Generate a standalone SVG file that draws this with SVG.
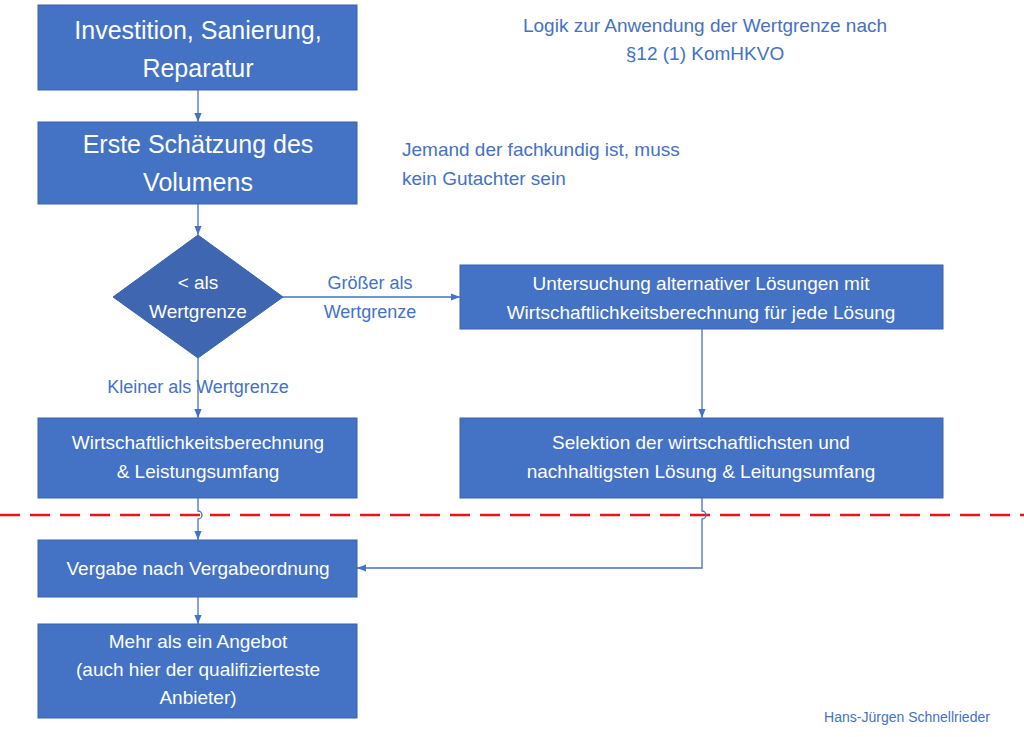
<svg xmlns="http://www.w3.org/2000/svg" width="1024" height="737" viewBox="0 0 1024 737">
<style>
.b{fill:#4472C4;stroke:#3A62AB;stroke-width:1}
.t{font-family:"Liberation Sans",Arial,sans-serif;fill:#fff;text-anchor:middle}
.l{font-family:"Liberation Sans",Arial,sans-serif;fill:#4472C4}
.c{stroke:#4472C4;stroke-width:1.3;fill:none;marker-end:url(#a)}
</style>
<defs><marker id="a" viewBox="0 0 10 10" refX="10" refY="5" markerWidth="7" markerHeight="7" orient="auto"><path d="M0,1 L10,5 L0,9 z" fill="#4472C4"/></marker></defs>
<rect width="1024" height="737" fill="#fff"/>
<g id="n1"><rect class="b" x="38" y="5" width="319" height="85"/><text class="t" x="198" y="39" font-size="25">Investition, Sanierung,</text><text class="t" x="198" y="77" font-size="25">Reparatur</text></g>
<g id="n2"><rect class="b" x="38" y="122" width="319" height="82"/><text class="t" x="198" y="153" font-size="25">Erste Schätzung des</text><text class="t" x="198" y="191" font-size="25">Volumens</text></g>
<g id="n3"><polygon points="198,235 283,297 198,358 113,297" fill="#3F67B1" stroke="#3A62AB"/><text class="t" x="198" y="289" font-size="19">&lt; als</text><text class="t" x="198" y="318" font-size="19">Wertgrenze</text></g>
<g id="n4"><rect class="b" x="460" y="265" width="483" height="64"/><text class="t" x="701" y="290" font-size="19">Untersuchung alternativer Lösungen mit</text><text class="t" x="701" y="319" font-size="19">Wirtschaftlichkeitsberechnung für jede Lösung</text></g>
<g id="n5"><rect class="b" x="38" y="418" width="319" height="80"/><text class="t" x="198" y="449" font-size="19">Wirtschaftlichkeitsberechnung</text><text class="t" x="198" y="478" font-size="19">&amp; Leistungsumfang</text></g>
<g id="n6"><rect class="b" x="460" y="418" width="483" height="80"/><text class="t" x="701" y="449" font-size="19">Selektion der wirtschaftlichsten und</text><text class="t" x="701" y="478" font-size="19">nachhaltigsten Lösung &amp; Leitungsumfang</text></g>
<g id="n7"><rect class="b" x="38" y="540" width="319" height="57"/><text class="t" x="198" y="575" font-size="19">Vergabe nach Vergabeordnung</text></g>
<g id="n8"><rect class="b" x="38" y="624" width="319" height="94"/><text class="t" x="198" y="648" font-size="19">Mehr als ein Angebot</text><text class="t" x="198" y="676" font-size="19">(auch hier der qualifizierteste</text><text class="t" x="198" y="704" font-size="19">Anbieter)</text></g>
<line x1="0" y1="515" x2="1024" y2="515" stroke="#E8141A" stroke-width="2.5" stroke-dasharray="20,10"/>
<g id="connectors">
<path class="c" d="M198,90 V122"/>
<path class="c" d="M198,204 V235"/>
<path class="c" d="M198,358 V418"/>
<path class="c" d="M198,498 V511 a4,4 0 0 1 0,8 V540"/>
<path class="c" d="M283,297 H460"/>
<path class="c" d="M702,329 V418"/>
<path class="c" d="M702,498 V511 a4,4 0 0 1 0,8 V568 H357"/>
<path class="c" d="M198,597 V624"/>
</g>
<g id="labels">
<text class="l" x="370" y="289" font-size="18" text-anchor="middle">Größer als</text>
<text class="l" x="370" y="318" font-size="18" text-anchor="middle">Wertgrenze</text>
<text class="l" x="198" y="393" font-size="18" text-anchor="middle">Kleiner als Wertgrenze</text>
<text class="l" x="705" y="32" font-size="19" text-anchor="middle">Logik zur Anwendung der Wertgrenze nach</text>
<text class="l" x="705" y="60" font-size="19" text-anchor="middle">§12 (1) KomHKVO</text>
<text class="l" x="402" y="156" font-size="19">Jemand der fachkundig ist, muss</text>
<text class="l" x="402" y="185" font-size="19">kein Gutachter sein</text>
<text class="l" x="907" y="722" font-size="14" text-anchor="middle">Hans-Jürgen Schnellrieder</text>
</g>
</svg>
